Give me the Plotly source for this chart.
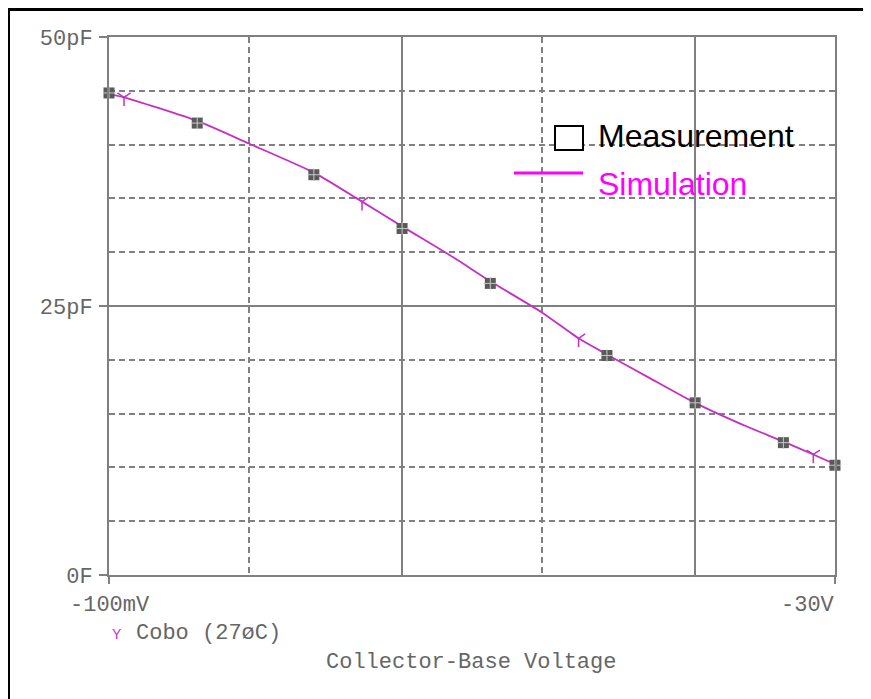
import plotly.graph_objects as go
import math

# ---- data ----
meas_v = [0.1, 0.2, 0.5, 1, 2, 5, 10, 20, 30]          # |V_CB| in volts
meas_c = [44.8, 42.0, 37.2, 32.2, 27.1, 20.4, 16.0, 12.3, 10.2]  # pF

sim_v = [0.1, 0.1125, 0.2, 0.3, 0.5, 0.73, 1, 1.5, 2, 3, 4, 5, 7, 10, 15, 20, 25.3, 30]
sim_c = [44.7, 44.4, 42.2, 40.1, 37.4, 34.7, 32.4, 29.5, 27.3, 24.4, 22.0, 20.5, 18.3, 16.0, 13.8, 12.4, 11.2, 10.3]

ymark_v = [0.1125, 0.73, 4, 25.3]
ymark_c = [44.4, 34.7, 22.0, 11.2]

y_tickvals = [0, 25, 50]
y_ticktext = ["0F", "25pF", "50pF"]
y_minor = [5, 10, 15, 20, 30, 35, 40, 45]
x_major = [0.1, 1, 10, 30]
x_minor = [0.3, 3]
x_edge = [0.1, 30]
x_ticktext = ["-100mV", "-30V"]

GRAY = "#808080"
TXT = "#666666"
MAG = "#c62fc6"
MONO = "Liberation Mono, DejaVu Sans Mono, monospace"
SANS = "Liberation Sans, Arial, sans-serif"

fig = go.Figure()

fig.add_trace(go.Scatter(x=sim_v, y=sim_c, mode="lines", line=dict(color=MAG, width=1.8, shape="spline", smoothing=0.6),
                         showlegend=False, hoverinfo="skip"))
fig.add_trace(go.Scatter(x=ymark_v, y=ymark_c, mode="markers", cliponaxis=False,
                         marker=dict(symbol="y-down-open", size=11, color=MAG, line=dict(color=MAG, width=1.5)),
                         showlegend=False, hoverinfo="skip"))
fig.add_trace(go.Scatter(x=meas_v, y=meas_c, mode="markers", cliponaxis=False,
                         marker=dict(symbol="square", size=11, color="#5a5a5a", line=dict(width=0)),
                         showlegend=False))
fig.add_trace(go.Scatter(x=meas_v, y=meas_c, mode="markers", cliponaxis=False,
                         marker=dict(symbol="cross-thin", size=9, color="#c8c8c8", line=dict(color="#c8c8c8", width=1)),
                         showlegend=False, hoverinfo="skip"))
fig.add_trace(go.Scatter(x=x_edge, y=[0, 0], xaxis="x2", mode="markers", marker=dict(opacity=0),
                         showlegend=False, hoverinfo="skip"))

lo, hi = math.log10(0.1), math.log10(30)

# page body has an 8px margin, so the figure is laid out 8px up/left of the screen positions
fig.update_layout(
    width=871, height=699,
    margin=dict(l=101, r=44, t=29, b=132),
    paper_bgcolor="white", plot_bgcolor="white",
    xaxis=dict(type="log", range=[lo, hi], tickvals=x_major, showticklabels=False, ticks="",
               showgrid=True, gridcolor=GRAY, gridwidth=2,
               minor=dict(tickvals=x_minor, showgrid=True, gridcolor=GRAY, gridwidth=2, griddash="6px,4px", ticks=""),
               showline=True, linecolor=GRAY, linewidth=2, mirror=True, zeroline=False),
    xaxis2=dict(type="log", range=[lo, hi], overlaying="x", anchor="y", side="bottom",
                tickvals=x_edge, ticks="outside", ticklen=8, tickwidth=2, tickcolor=GRAY,
                showticklabels=False, showgrid=False, showline=False, zeroline=False),
    yaxis=dict(range=[0, 50], tickvals=y_tickvals, ticktext=y_ticktext, ticks="outside", ticklen=8,
               tickwidth=2, tickcolor=GRAY, tickfont=dict(family=MONO, size=22, color=TXT),
               ticklabelstandoff=2,
               showgrid=True, gridcolor=GRAY, gridwidth=2,
               minor=dict(tickvals=y_minor, showgrid=True, gridcolor=GRAY, gridwidth=2, griddash="6px,4px", ticks=""),
               showline=True, linecolor=GRAY, linewidth=2, mirror=True, zeroline=False),
)

def px(x):
    return (x - 109) / 726

def py(y):
    return (575 - y) / 538

ann = []
ann.append(dict(text=x_ticktext[0], x=px(110), y=py(605), xanchor="center", yanchor="middle"))
ann.append(dict(text=x_ticktext[1], x=px(837), y=py(605), xanchor="right", yanchor="middle"))
ann.append(dict(text="Cobo (27øC)", x=px(134), y=py(633), xanchor="left", yanchor="middle"))
ann.append(dict(text="Collector-Base Voltage", x=px(471), y=py(662), xanchor="center", yanchor="middle"))
for a in ann:
    a.update(xref="paper", yref="paper", showarrow=False, font=dict(family=MONO, size=22, color=TXT))
ann.append(dict(text="Y", x=px(117), y=py(634), xref="paper", yref="paper", showarrow=False,
                xanchor="center", yanchor="middle", font=dict(family=SANS, size=14, color=MAG)))
ann.append(dict(text="Measurement", x=px(596), y=py(136), xref="paper", yref="paper", showarrow=False,
                xanchor="left", yanchor="middle", font=dict(family=SANS, size=32, color="black")))
ann.append(dict(text="Simulation", x=px(596), y=py(184), xref="paper", yref="paper", showarrow=False,
                xanchor="left", yanchor="middle", font=dict(family=SANS, size=32, color="#ff00ff")))
fig.update_layout(annotations=ann)

shapes = [
    dict(type="rect", xref="paper", yref="paper", x0=px(555), x1=px(583), y0=py(150), y1=py(126),
         line=dict(color="black", width=2), fillcolor="white"),
    dict(type="line", xref="paper", yref="paper", x0=px(514), x1=px(583), y0=py(173), y1=py(173),
         line=dict(color="#ff00ff", width=3)),
    dict(type="line", xref="paper", yref="paper", x0=px(8), x1=px(880), y0=py(9.5), y1=py(9.5),
         line=dict(color="black", width=3)),
    dict(type="line", xref="paper", yref="paper", x0=px(8.5), x1=px(8.5), y0=py(8), y1=py(710),
         line=dict(color="black", width=3)),
]
fig.update_layout(shapes=shapes)

fig.write_html("out.html")
